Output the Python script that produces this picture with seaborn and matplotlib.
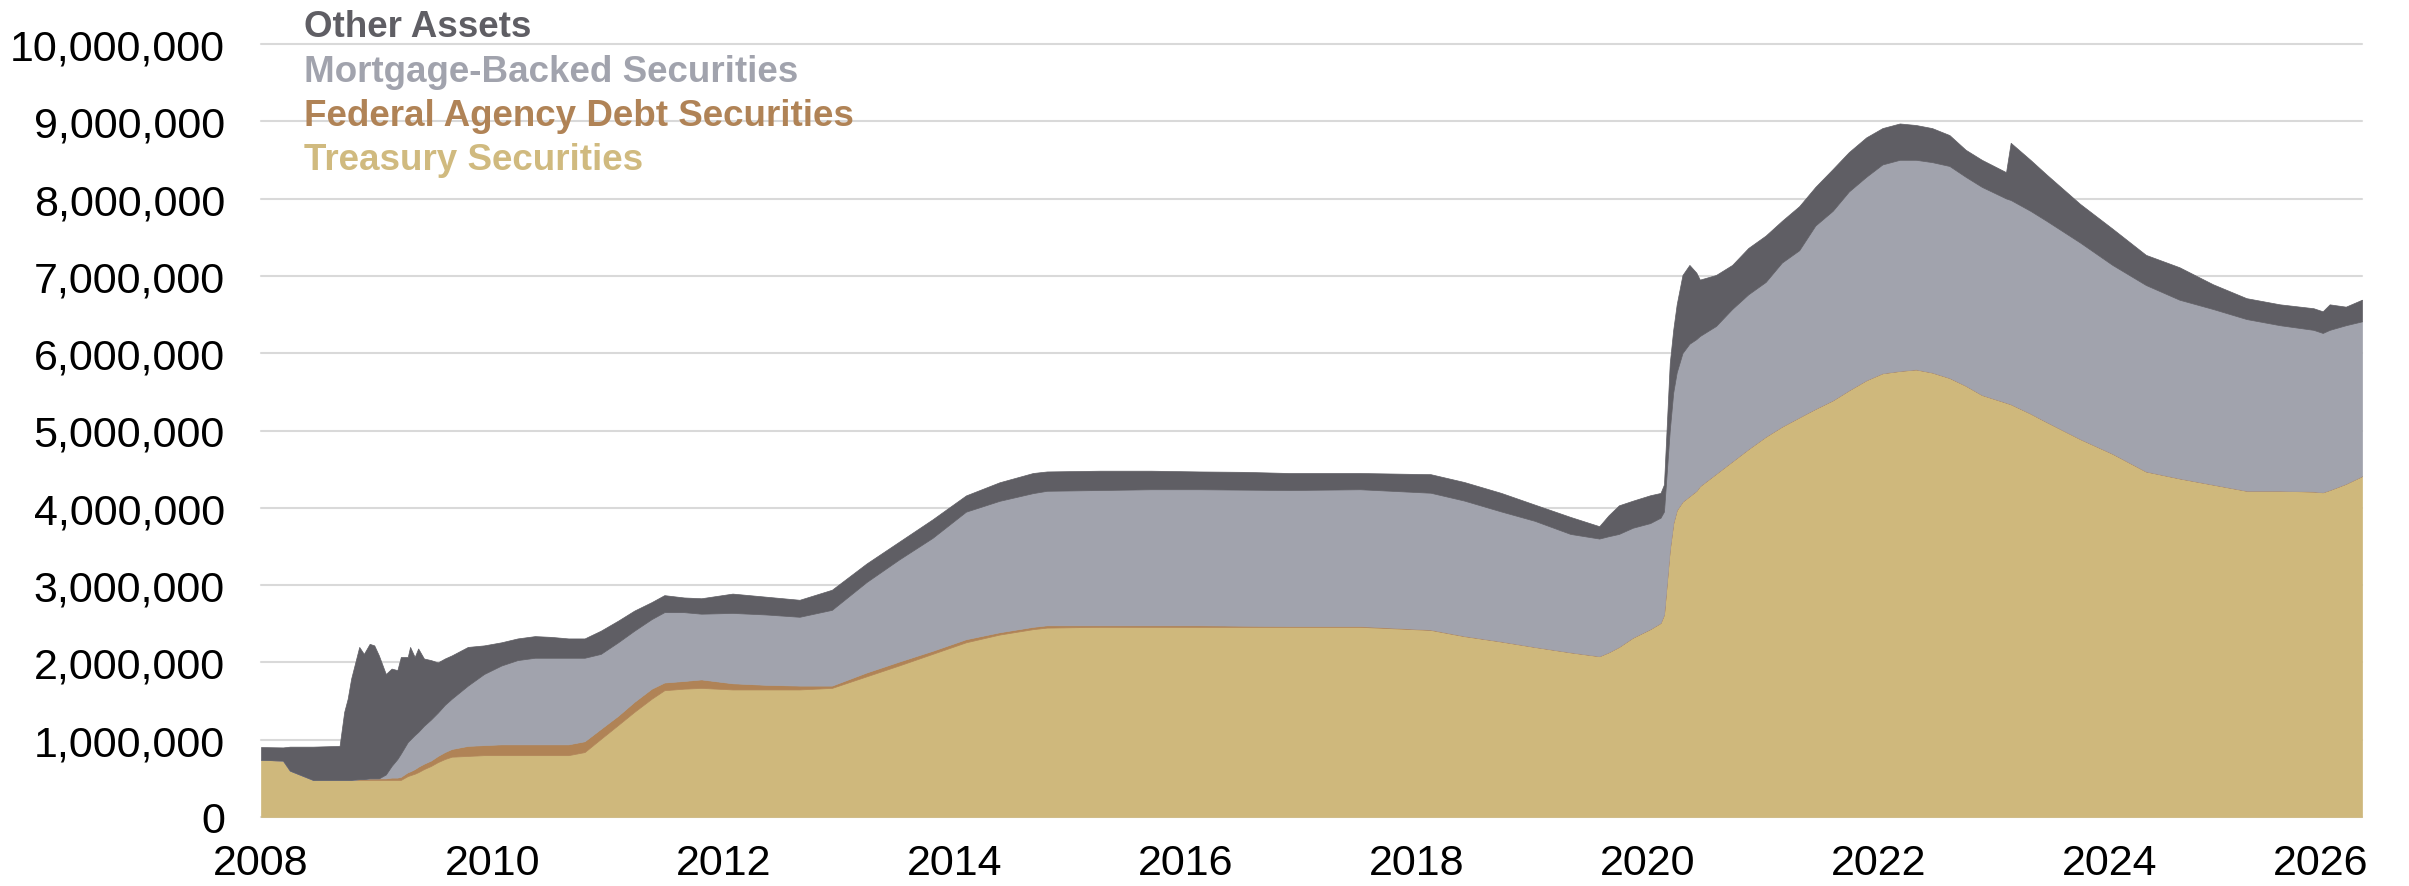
import matplotlib
matplotlib.use("Agg")
import matplotlib.pyplot as plt
from matplotlib.ticker import FuncFormatter
from matplotlib.transforms import ScaledTranslation
import seaborn as sns
import pandas as pd

# Fed balance sheet assets, $ trillions (axis is in $ millions)
dates = [2008.00, 2008.19, 2008.25, 2008.35, 2008.45, 2008.68, 2008.72, 2008.75, 2008.78, 2008.85,
         2008.89, 2008.94, 2008.98, 2009.02, 2009.08, 2009.13, 2009.18, 2009.21, 2009.27, 2009.29,
         2009.33, 2009.36, 2009.41, 2009.47, 2009.53, 2009.59, 2009.65, 2009.79, 2009.93, 2010.08,
         2010.22, 2010.37, 2010.51, 2010.66, 2010.80, 2010.94, 2011.09, 2011.23, 2011.38, 2011.49,
         2011.66, 2011.81, 2012.08, 2012.37, 2012.66, 2012.94, 2013.24, 2013.52, 2013.81, 2014.10,
         2014.39, 2014.68, 2014.80, 2015.26, 2015.70, 2016.12, 2016.50, 2016.90, 2017.51, 2018.12,
         2018.41, 2018.73, 2019.02, 2019.33, 2019.58, 2019.66, 2019.75, 2019.87, 2020.02, 2020.11,
         2020.14, 2020.19, 2020.22, 2020.25, 2020.30, 2020.36, 2020.42, 2020.45, 2020.59, 2020.73,
         2020.87, 2021.02, 2021.16, 2021.31, 2021.45, 2021.60, 2021.74, 2021.89, 2022.03, 2022.18,
         2022.32, 2022.46, 2022.61, 2022.75, 2022.89, 2023.10, 2023.14, 2023.31, 2023.45, 2023.74,
         2024.02, 2024.31, 2024.60, 2024.89, 2025.18, 2025.47, 2025.76, 2025.84, 2025.90, 2026.04,
         2026.18]

treasury = [.74, .73, .60, .54, .48, .48, .48, .48, .48, .48,
            .48, .48, .48, .48, .48, .48, .48, .48, .53, .54,
            .56, .58, .62, .66, .71, .75, .78, .79, .80, .80,
            .80, .80, .80, .80, .84, 1.01, 1.19, 1.36, 1.53, 1.64,
            1.66, 1.67, 1.65, 1.65, 1.65, 1.67, 1.82, 1.96, 2.11, 2.26,
            2.36, 2.43, 2.45, 2.46, 2.46, 2.46, 2.46, 2.46, 2.46, 2.42,
            2.34, 2.27, 2.20, 2.13, 2.08, 2.13, 2.20, 2.32, 2.43, 2.51,
            2.62, 3.46, 3.80, 3.97, 4.08, 4.15, 4.22, 4.28, 4.44, 4.60,
            4.76, 4.92, 5.05, 5.17, 5.28, 5.39, 5.52, 5.65, 5.74, 5.77,
            5.79, 5.75, 5.68, 5.58, 5.46, 5.36, 5.34, 5.22, 5.11, 4.89,
            4.70, 4.47, 4.38, 4.30, 4.22, 4.22, 4.21, 4.20, 4.23, 4.31,
            4.41]

agency = [0, 0, 0, 0, 0, 0, 0, 0, 0, .01,
          .01, .02, .02, .02, .02, .03, .03, .04, .05, .05,
          .06, .07, .07, .07, .08, .09, .10, .13, .13, .14,
          .14, .14, .14, .14, .14, .13, .12, .13, .13, .10,
          .10, .11, .08, .06, .05, .03, .05, .05, .04, .04,
          .03, .03, .03, .02, .02, .02, .015, .01, .01, .005,
          .004, .003, .002, .002, .002, .002, .002, .002, .002, .002,
          .002, .002, .002, .002, .002, .002, .002, .002, .002, .002,
          .002, .002, .002, .002, .002, .002, .002, .002, .002, .002,
          .002, .002, .002, .002, .002, .002, .002, .002, .002, .002,
          .002, .002, .002, .002, .002, .002, .002, .002, .002, .002,
          .002]

mbs = [0, 0, 0, 0, 0, 0, 0, 0, 0, 0,
       0, 0, 0, 0, .05, .15, .24, .30, .39, .41,
       .44, .45, .49, .53, .56, .61, .65, .78, .92, 1.02,
       1.09, 1.12, 1.12, 1.12, 1.08, .97, .95, .92, .90, .91,
       .89, .85, .91, .91, .89, .98, 1.17, 1.32, 1.46, 1.65,
       1.70, 1.73, 1.74, 1.75, 1.76, 1.76, 1.76, 1.76, 1.77, 1.77,
       1.75, 1.68, 1.63, 1.53, 1.52, 1.50, 1.46, 1.42, 1.37, 1.36,
       1.33, 1.54, 1.69, 1.78, 1.92, 1.97, 1.96, 1.94, 1.91, 1.97,
       2.00, 2.00, 2.12, 2.16, 2.37, 2.45, 2.57, 2.63, 2.70, 2.73,
       2.71, 2.72, 2.74, 2.70, 2.69, 2.64, 2.64, 2.62, 2.60, 2.54,
       2.44, 2.41, 2.31, 2.27, 2.22, 2.14, 2.09, 2.06, 2.07, 2.05,
       2.00]

other = [.165, .17, .31, .37, .43, .44, .88, 1.05, 1.31, 1.71,
         1.62, 1.74, 1.72, 1.59, 1.30, 1.26, 1.15, 1.25, 1.10, 1.20,
         1.01, 1.08, .87, .77, .65, .60, .56, .50, .37, .30,
         .28, .28, .27, .25, .25, .30, .28, .26, .22, .22,
         .19, .20, .25, .23, .22, .26, .24, .23, .24, .21,
         .24, .26, .25, .25, .24, .23, .23, .22, .21, .24,
         .24, .24, .21, .22, .16, .27, .37, .35, .36, .32,
         .35, .87, .81, .88, 1.01, 1.02, .86, .73, .66, .57,
         .60, .60, .54, .57, .50, .54, .51, .51, .47, .47,
         .45, .44, .40, .35, .35, .34, .74, .66, .60, .50,
         .47, .39, .42, .32, .27, .27, .28, .28, .33, .24,
         .28]

series = ["Treasury Securities", "Federal Agency Debt Securities",
          "Mortgage-Backed Securities", "Other Assets"]
colors = ["#CFB87C", "#B08356", "#A1A3AD", "#5F5E64"]
year_ticks = [2008, 2010, 2012, 2014, 2016, 2018, 2020, 2022, 2024, 2026]

df = pd.DataFrame({"date": dates, "treasury": treasury, "agency": agency,
                   "mbs": mbs, "other": other})
cols = ["treasury", "agency", "mbs", "other"]
df[cols] = df[cols] * 1_000_000  # trillions -> millions

sns.set_style("white")
plt.rcParams["font.family"] = ["Liberation Sans", "DejaVu Sans"]

W, H = 2409, 887
fig = plt.figure(figsize=(W / 100, H / 100), dpi=100)
ax = fig.add_axes([261 / W, 1 - 818 / H, (2362 - 261) / W, (818 - 45) / H])

polys = ax.stackplot(df["date"], *[df[c] for c in cols], colors=colors, labels=series)
for p, c in zip(polys, colors):
    p.set_edgecolor(c)
    p.set_linewidth(0.5)

ax.set_xlim(2008.0, 2026.18)
ax.set_ylim(0, 10_000_000)
ax.set_yticks(range(0, 10_000_001, 1_000_000))
ax.yaxis.set_major_formatter(FuncFormatter(lambda v, p: f"{v:,.0f}"))
ax.set_xticks(year_ticks)
ax.set_xticklabels([str(y) for y in year_ticks])

ax.set_axisbelow(True)
ax.yaxis.grid(True, color="#D9D9D9", linewidth=1.5)
ax.xaxis.grid(False)
for gl in ax.get_ygridlines():
    gl.set_clip_on(False)
sns.despine(ax=ax, left=True, bottom=True)
ax.tick_params(axis="y", length=0, pad=26, labelsize=31, labelcolor="black")
ax.tick_params(axis="x", length=0, pad=19, labelsize=31, labelcolor="black")

# last year label sits left of the axis end
last = ax.get_xticklabels()[-1]
last.set_transform(last.get_transform() + ScaledTranslation(-0.21, 0, fig.dpi_scale_trans))

# legend written as coloured text, top to bottom
legend_colors = ["#5F5E64", "#A1A3AD", "#B08356", "#D0BA7F"]
legend_y = [37, 81.5, 126, 170.5]
for name, c, y in zip(series[::-1], legend_colors, legend_y):
    fig.text(304 / W, 1 - y / H, name, color=c, fontsize=26.5,
             fontweight="bold", va="baseline", ha="left")

fig.savefig("out.png", dpi=100)
